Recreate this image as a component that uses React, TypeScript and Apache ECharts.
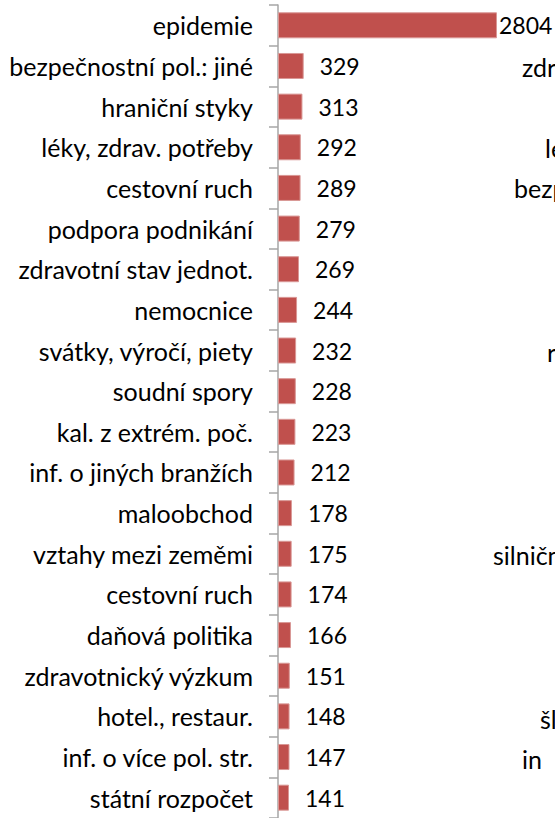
import React, { useEffect, useRef } from "react";
import * as echarts from "echarts";

const categories = [
  "epidemie",
  "bezpečnostní pol.: jiné",
  "hraniční styky",
  "léky, zdrav. potřeby",
  "cestovní ruch",
  "podpora podnikání",
  "zdravotní stav jednot.",
  "nemocnice",
  "svátky, výročí, piety",
  "soudní spory",
  "kal. z extrém. poč.",
  "inf. o jiných branžích",
  "maloobchod",
  "vztahy mezi zeměmi",
  "cestovní ruch",
  "daňová politika",
  "zdravotnický výzkum",
  "hotel., restaur.",
  "inf. o více pol. str.",
  "státní rozpočet",
];

const values = [2804, 329, 313, 292, 289, 279, 269, 244, 232, 228, 223, 212, 178, 175, 174, 166, 151, 148, 147, 141];

// fragments of the neighbouring chart's labels, cut off at the right edge
const neighbourLabels = ["zdr", "le", "bezp", "r", "silničn", "šl", "in"];

const FONT = "Lato";
const FS_CAT = 25;
const FS_VAL = 23;

export default function App() {
  const ref = useRef<HTMLDivElement>(null);
  useEffect(() => {
    document.body.style.margin = "0";
    const chart = echarts.init(ref.current!, null, { renderer: "svg" });
    const neighbourPos = [
      [522, 67],
      [545, 148],
      [514, 188],
      [547, 352],
      [493, 555],
      [540, 719],
      [522, 759],
    ];
    chart.setOption({
      animation: false,
      backgroundColor: "#ffffff",
      grid: { left: 278, top: 5, width: 234.3, height: 816, containLabel: false },
      xAxis: { type: "value", min: 0, max: 3000, show: false, splitLine: { show: false } },
      yAxis: {
        type: "category",
        inverse: true,
        data: categories,
        axisLine: { show: true, lineStyle: { color: "#A6A6A6", width: 1.5 } },
        axisTick: { show: true, length: 9, lineStyle: { color: "#A6A6A6", width: 1.5 } },
        axisLabel: { margin: 25, color: "#000", fontSize: FS_CAT, fontFamily: FONT },
      },
      series: [
        {
          type: "bar",
          barWidth: 26,
          data: values.map((v, i) =>
            i === 0 ? { value: v, label: { distance: 2 } } : { value: v }
          ),
          itemStyle: { color: "#C0504D", borderColor: "#D99795", borderWidth: 1 },
          label: {
            show: true,
            position: "right",
            distance: 16,
            color: "#000",
            fontSize: FS_VAL,
            fontFamily: FONT,
          },
        },
      ],
      graphic: neighbourLabels.map((t, i) => ({
        type: "text",
        x: neighbourPos[i][0],
        y: neighbourPos[i][1],
        style: {
          text: t,
          font: `${FS_CAT}px ${FONT}`,
          fill: "#000",
          textAlign: "left",
          textVerticalAlign: "middle",
        },
      })),
    });
    return () => chart.dispose();
  }, []);
  return <div ref={ref} style={{ width: 555, height: 818 }} />;
}
